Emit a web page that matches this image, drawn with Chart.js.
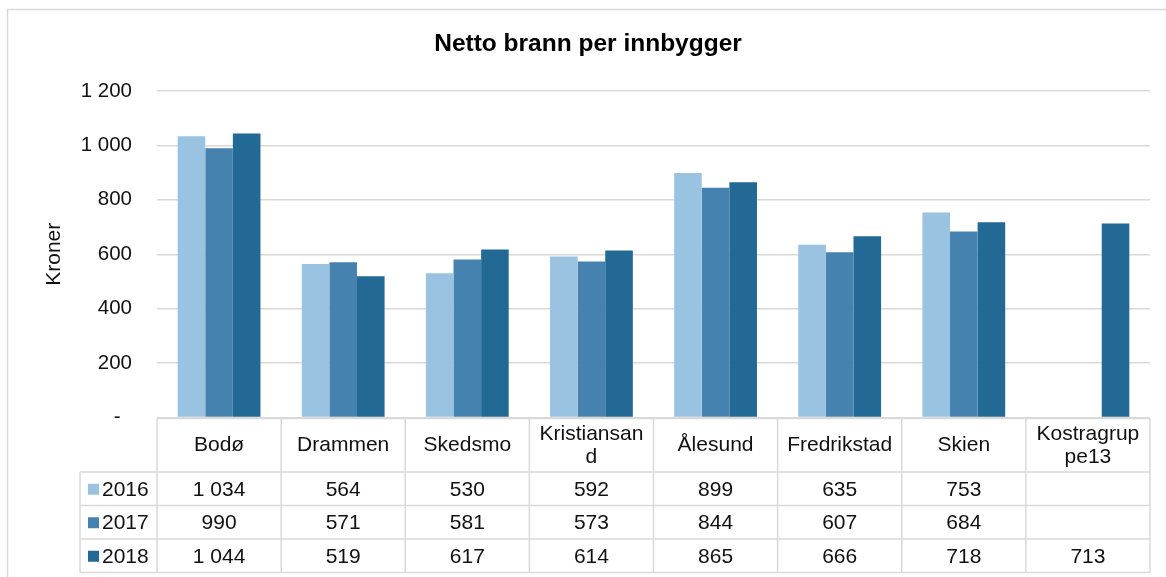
<!DOCTYPE html>
<html>
<head>
<meta charset="utf-8">
<script src="https://cdn.jsdelivr.net/npm/chart.js@4.4.1/dist/chart.umd.min.js"></script>
<style>
  html, body { margin: 0; padding: 0; background: #fff; }
  #wrap { width: 1166px; height: 577px; }
</style>
</head>
<body>
<div id="wrap"><canvas id="chart" width="1166" height="577"></canvas></div>
<script>
// Kategorier og verdier (kroner per innbygger)
const categories = ['Bodø', 'Drammen', 'Skedsmo', 'Kristiansand', 'Ålesund', 'Fredrikstad', 'Skien', 'Kostragruppe13'];
// kolonneoverskrifter slik de brytes i tabellen
const headerLines = [['Bodø'], ['Drammen'], ['Skedsmo'], ['Kristiansan', 'd'], ['Ålesund'], ['Fredrikstad'], ['Skien'], ['Kostragrup', 'pe13']];
const years = ['2016', '2017', '2018'];
const values2016 = [1034, 564, 530, 592, 899, 635, 753, null];
const values2017 = [990, 571, 581, 573, 844, 607, 684, null];
const values2018 = [1044, 519, 617, 614, 865, 666, 718, 713];
const yTicks = [0, 200, 400, 600, 800, 1000, 1200];

const colors = ['#9ac2e1', '#4682b0', '#226995'];
const gridColor = '#d9d9d9';
const FONT = 'Liberation Sans, Arial, Helvetica, sans-serif';

// tall med mellomrom som tusenskille, 0 vises som strek
function fmt(v) {
  if (v === null || v === undefined) return '';
  if (v === 0) return '-  ';
  return String(v).replace(/\B(?=(\d{3})+(?!\d))/g, ' ');
}

// ramme rundt diagrammet (venstre og topp synlig)
const frame = {
  id: 'frame',
  beforeDraw(chart) {
    const ctx = chart.ctx;
    ctx.save();
    ctx.strokeStyle = gridColor;
    ctx.lineWidth = 1.5;
    ctx.beginPath();
    ctx.moveTo(7.5, chart.height);
    ctx.lineTo(7.5, 9.5);
    ctx.lineTo(chart.width, 9.5);
    ctx.stroke();
    ctx.restore();
  }
};

// datatabell under stolpene
const dataTable = {
  id: 'dataTable',
  afterDraw(chart) {
    const ctx = chart.ctx;
    const area = chart.chartArea;
    const xs = chart.scales.x;
    const n = categories.length;
    const catW = (area.right - area.left) / n;
    const headTop = area.bottom + 1;
    const headBottom = 472;
    const rowH = 33.5;
    const rowTops = [headBottom, headBottom + rowH, headBottom + 2 * rowH];
    const tableBottom = headBottom + 3 * rowH;
    const legendLeft = 80;
    const series = [values2016, values2017, values2018];

    ctx.save();
    ctx.strokeStyle = gridColor;
    ctx.lineWidth = 1.5;
    ctx.beginPath();
    // vannrette linjer
    ctx.moveTo(area.left, headTop); ctx.lineTo(area.right, headTop);
    rowTops.concat([tableBottom]).forEach(y => {
      ctx.moveTo(legendLeft, y); ctx.lineTo(area.right, y);
    });
    // loddrette linjer
    for (let i = 0; i <= n; i++) {
      const x = area.left + i * catW;
      ctx.moveTo(x, headTop); ctx.lineTo(x, tableBottom);
    }
    ctx.moveTo(legendLeft, headBottom); ctx.lineTo(legendLeft, tableBottom);
    ctx.stroke();

    ctx.fillStyle = '#111';
    ctx.font = '21px ' + FONT;
    ctx.textAlign = 'center';
    ctx.textBaseline = 'middle';
    // kolonneoverskrifter
    headerLines.forEach((lines, i) => {
      const cx = xs.getPixelForValue(i);
      const cy = (headTop + headBottom) / 2;
      const lh = 23;
      lines.forEach((t, k) => {
        ctx.fillText(t, cx, cy + (k - (lines.length - 1) / 2) * lh);
      });
    });
    // rader med verdier og forklaring
    series.forEach((vals, r) => {
      const cy = rowTops[r] + rowH / 2;
      ctx.fillStyle = colors[r];
      ctx.fillRect(88, cy - 5, 11, 11);
      ctx.fillStyle = '#111';
      ctx.textAlign = 'left';
      ctx.fillText(years[r], 102, cy + 1);
      ctx.textAlign = 'center';
      vals.forEach((v, i) => {
        ctx.fillText(fmt(v), xs.getPixelForValue(i), cy + 1);
      });
    });
    ctx.restore();
  }
};

new Chart(document.getElementById('chart'), {
  type: 'bar',
  data: {
    labels: categories,
    datasets: [
      { label: years[0], data: values2016, backgroundColor: colors[0] },
      { label: years[1], data: values2017, backgroundColor: colors[1] },
      { label: years[2], data: values2018, backgroundColor: colors[2] }
    ]
  },
  options: {
    responsive: false,
    animation: false,
    layout: { padding: { left: 26, right: 16, top: 0, bottom: 159.5 } },
    datasets: { bar: { categoryPercentage: 0.667, barPercentage: 1.0 } },
    plugins: {
      legend: { display: false },
      tooltip: { enabled: false },
      title: {
        display: true,
        text: 'Netto brann per innbygger',
        color: '#000',
        font: { family: FONT, size: 24.5, weight: 'bold' },
        padding: { top: 30, bottom: 31.6 }
      }
    },
    scales: {
      x: {
        display: false
      },
      y: {
        min: 0,
        max: 1200,
        afterBuildTicks(scale) { scale.ticks = yTicks.map(v => ({ value: v })); },
        afterFit(scale) { scale.width = 131; },
        border: { display: false },
        grid: { color: gridColor, lineWidth: 1.5, drawTicks: false },
        ticks: {
          padding: 25,
          color: '#111',
          font: { family: FONT, size: 20.5 },
          callback: v => fmt(v)
        },
        title: {
          display: true,
          text: 'Kroner',
          color: '#111',
          font: { family: FONT, size: 21 },
          padding: { top: 16, bottom: 0 }
        }
      }
    }
  },
  plugins: [frame, dataTable]
});
</script>
</body>
</html>
